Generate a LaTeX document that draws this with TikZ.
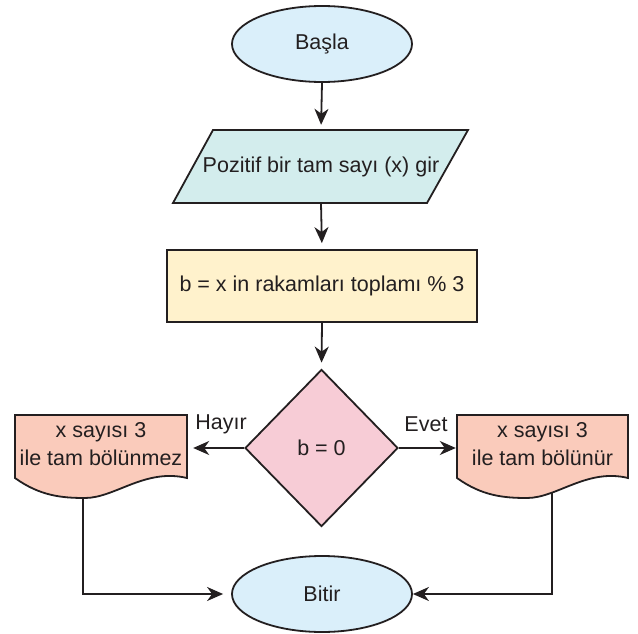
\documentclass[tikz,border=0pt]{standalone}
\usepackage{fontspec}
\setmainfont{Liberation Sans}
\usetikzlibrary{shapes.geometric,arrows.meta}
\definecolor{ink}{HTML}{231F20}
\definecolor{termfill}{RGB}{218,239,250}
\definecolor{iofill}{RGB}{211,237,237}
\definecolor{procfill}{RGB}{255,242,204}
\definecolor{decfill}{RGB}{247,204,214}
\definecolor{docfill}{RGB}{250,203,187}
\begin{document}
\begin{tikzpicture}[x=1pt,y=-1pt,
  every node/.style={font=\fontsize{21.5}{28}\selectfont, text=ink},
  outline/.style={draw=ink, line width=1.8pt, line join=miter},
  terminal/.style={outline, ellipse, fill=termfill, minimum width=180pt, minimum height=76pt, inner sep=0pt},
  textbox/.style={inner sep=0pt, align=center},
  flow/.style={draw=ink, line width=1.8pt, -{Stealth[length=16pt,width=14pt,inset=5pt]}},
]
\useasboundingbox (0,0) rectangle (638,634);

% start / end
\node[terminal] (basla) at (322,44) {Başla};
\node[terminal] (bitir) at (322,594) {Bitir};

% input (parallelogram)
\draw[outline, fill=iofill] (213,130) -- (468,130) -- (427,203) -- (173,203) -- cycle;
\node[textbox, minimum width=230pt, minimum height=73pt] (input) at (321,166.5) {Pozitif bir tam sayı (x) gir};

% process
\node[outline, fill=procfill, minimum width=310pt, minimum height=72pt, inner sep=0pt] (calc) at (322,286)
  {b = x in rakamları toplamı \% 3};

% decision
\node[outline, diamond, fill=decfill, minimum width=153pt, minimum height=157pt, inner sep=0pt] (dec) at (321.5,448) {b = 0};

% documents
\draw[outline, fill=docfill] (15,415) -- (187,415) -- (187,478)
  .. controls (145,468) and (115,498) .. (85,498)
  .. controls (62,498) and (40,496) .. (15,478) -- cycle;
\node[textbox, minimum width=172pt, minimum height=63pt] (nodiv) at (101,444) {x sayısı 3\\ile tam bölünmez};

\draw[outline, fill=docfill] (457,415) -- (628,415) -- (628,478)
  .. controls (587,468) and (557,498) .. (527,498)
  .. controls (504,498) and (482,496) .. (457,478) -- cycle;
\node[textbox, minimum width=171pt, minimum height=63pt] (div) at (542.5,444) {x sayısı 3\\ile tam bölünür};

\coordinate (nodiv-out) at (83,498);
\coordinate (div-out) at (552,492);

% branch labels
\node (no) at (221,424) {Hayır};
\node (yes) at (426,424) {Evet};

% connectors
\draw[flow, shorten >=5pt] (basla.south) -- (input.north);
\draw[flow, shorten >=6pt] (input.south) -- (calc.north);
\draw[flow, shorten >=6pt] (calc.south) -- (dec.north);
\draw[flow, shorten >=6pt] (dec.west) -- (nodiv.east |- dec.west);
\draw[flow, shorten >=1pt] (dec.east) -- (div.west |- dec.east);
\draw[flow, shorten >=8pt] (nodiv-out) |- (bitir.west);
\draw[flow] (div-out) |- (bitir.east);
\end{tikzpicture}
\end{document}
